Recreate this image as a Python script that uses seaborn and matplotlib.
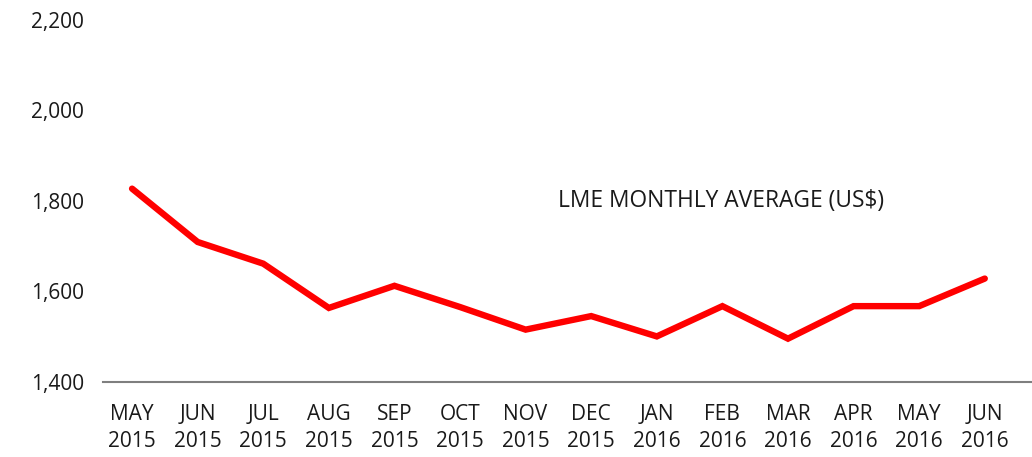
import matplotlib
matplotlib.use("Agg")
import matplotlib.pyplot as plt
import seaborn as sns
import pandas as pd

months = ["MAY", "JUN", "JUL", "AUG", "SEP", "OCT", "NOV",
          "DEC", "JAN", "FEB", "MAR", "APR", "MAY", "JUN"]
years = ["2015"] * 8 + ["2016"] * 6
price = [1827, 1709, 1661, 1563, 1612, 1565, 1515,
         1545, 1500, 1567, 1495, 1567, 1567, 1628]
y_ticks = [1400, 1600, 1800, 2000, 2200]

df = pd.DataFrame({"pos": range(len(price)), "price": price})

sns.set_style("white")
plt.rcParams['font.family'] = ['Open Sans', 'DejaVu Sans']

fig = plt.figure(figsize=(10.32, 4.57), dpi=100)
ax = fig.add_axes([0.1, 0.165, 0.9, 0.791])

sns.lineplot(data=df, x="pos", y="price", color="#ff0000", linewidth=4.6,
             solid_capstyle="round", solid_joinstyle="miter", ax=ax)

ax.set_xlim(-0.44, 13.72)
ax.set_ylim(1400, 2200)
ax.set_yticks(y_ticks)
ax.set_yticklabels([f"{v:,}" for v in y_ticks])
ax.set_xticks(range(len(months)))
ax.set_xticklabels([f"{m}\n{y}" for m, y in zip(months, years)],
                   linespacing=1.4)
ax.tick_params(axis="both", length=0, labelsize=15, colors="#1a1a1a")
ax.tick_params(axis="y", pad=14)
ax.tick_params(axis="x", pad=16)
ax.set_xlabel("")
ax.set_ylabel("")

for s in ["top", "right", "left"]:
    ax.spines[s].set_visible(False)
ax.spines["bottom"].set_color("#7f7f7f")
ax.spines["bottom"].set_linewidth(1.5)

ax.text(6.5, 1800, "LME MONTHLY AVERAGE (US$)",
        fontsize=16.4, color="#1a1a1a", va="center", ha="left")

fig.savefig("out.png", dpi=100)
